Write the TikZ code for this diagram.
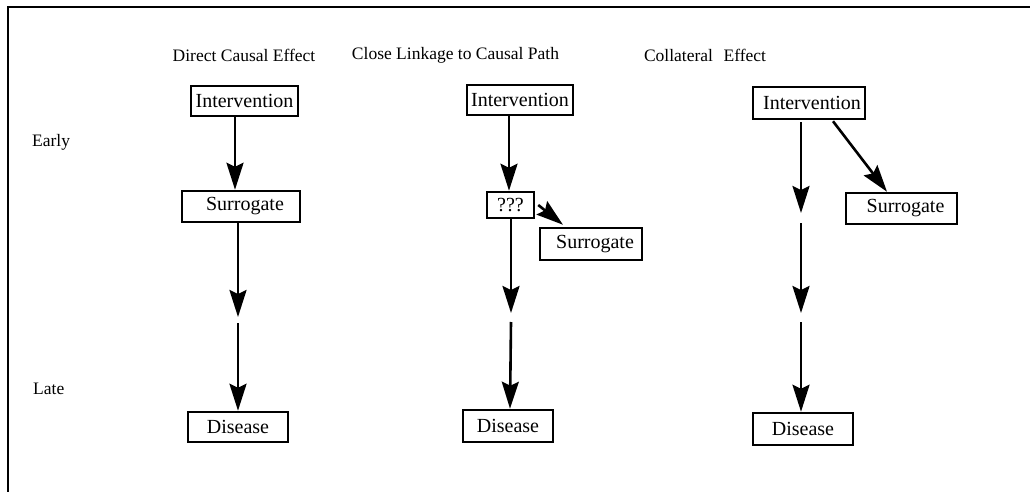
\documentclass[tikz,border=0pt]{standalone}
\usepackage{fontspec}
\setmainfont{Liberation Serif}
\usetikzlibrary{arrows.meta}
\begin{document}
\begin{tikzpicture}[x=1pt,y=-1pt,
  box/.style={draw, line width=2.5pt, inner sep=0pt, font=\fontsize{20}{22}\selectfont},
  lbl/.style={font=\fontsize{17.5}{20}\selectfont, inner sep=0pt},
  arr/.style={line width=2.6pt, -{Stealth[length=27pt,width=17pt,inset=4pt]}},
  frame/.style={line width=2.5pt}]
\useasboundingbox (0,0) rectangle (1033,492);
\coordinate (fb) at (8,492);
\coordinate (fc) at (8,7);
\coordinate (fr) at (1030,7);
\draw[frame] (fb) -- (fc) -- (fr);

% headers and side labels
\node[lbl] (h1) at (244,55) {Direct Causal Effect};
\node[lbl] (h2) at (455.5,55) {Close Linkage to Causal Path};
\node[lbl] (h3) at (705,55) {Collateral\hspace{0.6em}Effect};
\node[lbl, anchor=west] (early) at (32,142) {Early};
\node[lbl, anchor=west] (late) at (33,389) {Late};

% column 1
\node[box, minimum width=107pt, minimum height=30pt] (I1) at (244.5,101) {Intervention};
\node[box, minimum width=118pt, minimum height=31pt] (S1) at (241,206.5) {\hspace{8pt}Surrogate};
\node[box, minimum width=100pt, minimum height=30pt] (D1) at (238,427) {Disease};
\coordinate (g1a) at (238,317);
\coordinate (g1b) at (238,323);
\draw[arr] ([xshift=-9.5pt]I1.south) -- ([xshift=-6pt]S1.north);
\draw[arr] ([xshift=-3pt]S1.south) -- (g1a);
\draw[arr] (g1b) -- (D1.north);

% column 2
\node[box, minimum width=106pt, minimum height=30pt] (I2) at (520,100) {Intervention};
\node[box, minimum width=47pt, minimum height=26pt] (Q2) at (510.5,205) {???};
\node[box, minimum width=102pt, minimum height=32pt] (S2) at (591,244) {\hspace{8pt}Surrogate};
\node[box, minimum width=90pt, minimum height=32pt] (D2) at (508,426) {Disease};
\coordinate (g2a) at (511,313);
\coordinate (g2b) at (511,322);
\draw[arr] ([xshift=-11pt]I2.south) -- ([xshift=-1.5pt]Q2.north);
\draw[arr] ([xshift=3pt]Q2.east) -- ([xshift=-28pt,yshift=2pt]S2.north);
\draw[arr] ([xshift=0.5pt]Q2.south) -- (g2a);
\draw[arr] (g2b) -- ([xshift=2pt]D2.north);

% column 3
\node[box, minimum width=112pt, minimum height=32pt] (I3) at (809,103) {\hspace{6pt}Intervention};
\node[box, minimum width=111pt, minimum height=31pt] (S3) at (901.5,208.5) {\hspace{8pt}Surrogate};
\node[box, minimum width=100pt, minimum height=32pt] (D3) at (803,429) {Disease};
\coordinate (g3a) at (801,213);
\coordinate (g3b) at (801,223);
\coordinate (g3c) at (801,313);
\coordinate (g3d) at (801,322);
\draw[arr] ([xshift=-8pt,yshift=-2pt]I3.south) -- (g3a);
\draw[arr] (g3b) -- (g3c);
\draw[arr] (g3d) -- ([xshift=-2pt]D3.north);
\draw[arr] ([xshift=24pt,yshift=-1pt]I3.south) -- ([xshift=-14.5pt]S3.north);
\end{tikzpicture}
\end{document}
